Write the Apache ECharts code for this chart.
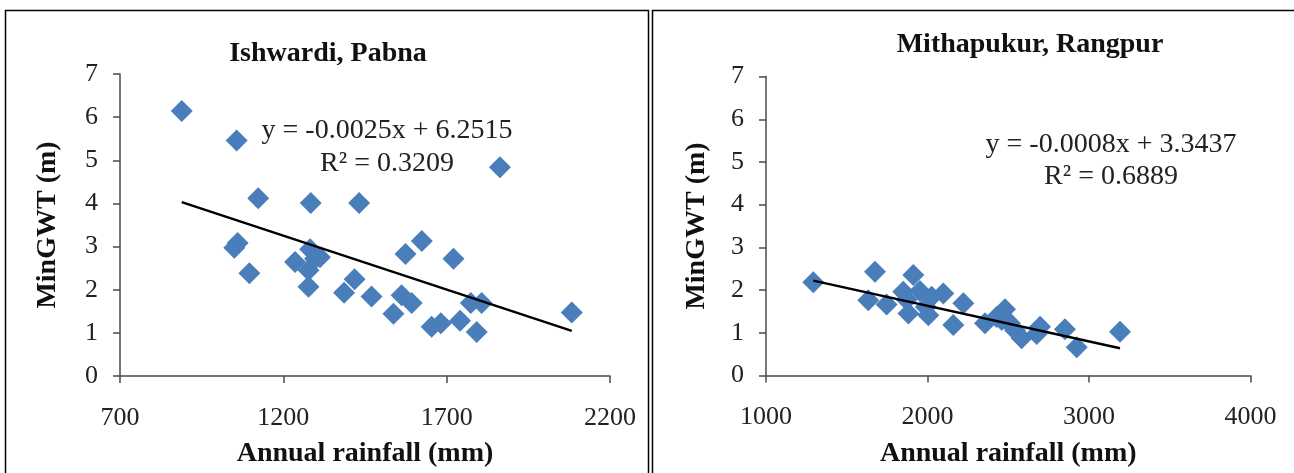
<!DOCTYPE html>
<html><head><meta charset="utf-8">
<script src="https://cdn.jsdelivr.net/npm/echarts@6/dist/echarts.min.js"></script>
<style>html,body{margin:0;padding:0;background:#fff}#c{width:1294px;height:473px}</style>
</head><body><div id="c"></div>
<script>
// ---- data ----
const leftTitle = 'Ishwardi, Pabna';
const rightTitle = 'Mithapukur, Rangpur';
const xAxisName = 'Annual rainfall (mm)';
const yAxisName = 'MinGWT (m)';

const leftRainfall = [889,1057,1123,1284,1432,1863,1050,1060,1096,1282,1297,1312,1236,1277,1277,1418,1386,1470,1574,1624,1721,1562,1593,1537,1654,1682,1741,1792,1774,1807,2083];
const leftGWT      = [6.14,5.46,4.12,4.01,4.01,4.84,2.97,3.08,2.38,2.94,2.72,2.75,2.64,2.45,2.07,2.24,1.93,1.84,2.83,3.13,2.72,1.87,1.69,1.44,1.14,1.22,1.28,1.02,1.69,1.69,1.47];
const leftTrendX = [889, 2083];
const leftTrendY = [4.03, 1.045];
const leftEquation = ['y = -0.0025x + 6.2515', 'R\u00B2 = 0.3209'];

const rightRainfall = [1293,1675,1633,1747,1912,1871,1850,1953,1882,2005,2026,2098,2222,2160,2356,2428,2480,2511,2542,2583,2676,2697,2851,2924,3192,1990,2460];
const rightGWT      = [2.18,2.43,1.76,1.66,2.35,1.77,1.96,1.98,1.45,1.41,1.84,1.92,1.69,1.18,1.22,1.37,1.55,1.22,1.06,0.87,0.97,1.14,1.08,0.66,1.02,1.60,1.30];
const rightTrendX = [1293, 3192];
const rightTrendY = [2.22, 0.635];
const rightEquation = ['y = -0.0008x + 3.3437', 'R\u00B2 = 0.6889'];

const leftXTicks = {min: 700, max: 2200, interval: 500};
const rightXTicks = {min: 1000, max: 4000, interval: 1000};
const yTicks = {min: 0, max: 7, interval: 1};

// ---- chart ----
const FONT = '"Liberation Serif", "Times New Roman", serif';
const BLUE = '#4A7EBB';
const zip = (a, b) => a.map((v, i) => [v, b[i]]);

function xAxis(grid, ticks) {
  return {
    gridIndex: grid, type: 'value', min: ticks.min, max: ticks.max, interval: ticks.interval,
    axisLine: {show: true, onZero: false, lineStyle: {color: '#4a4a4a', width: 1.5}},
    axisTick: {show: true, length: 7, lineStyle: {color: '#4a4a4a', width: 1.5}},
    axisLabel: {fontFamily: FONT, fontSize: 26, color: '#222', margin: 29, formatter: v => String(v)},
    splitLine: {show: false},
    name: xAxisName, nameLocation: 'middle', nameGap: 64,
    nameTextStyle: {fontFamily: FONT, fontSize: 28, fontWeight: 'bold', color: '#111'}
  };
}
function yAxis(grid, gap) {
  return {
    gridIndex: grid, type: 'value', min: yTicks.min, max: yTicks.max, interval: yTicks.interval,
    axisLine: {show: true, onZero: false, lineStyle: {color: '#4a4a4a', width: 1.5}},
    axisTick: {show: true, length: 7, lineStyle: {color: '#4a4a4a', width: 1.5}},
    axisLabel: {fontFamily: FONT, fontSize: 26, color: '#222', margin: 22, formatter: v => String(v)},
    splitLine: {show: false},
    name: yAxisName, nameLocation: 'middle', nameGap: gap, nameRotate: 90,
    nameTextStyle: {fontFamily: FONT, fontSize: 28, fontWeight: 'bold', color: '#111'}
  };
}
function eqText(lines, cx, y0, dy) {
  return lines.map((t, i) => ({
    type: 'text', z: 10,
    style: {text: t, x: cx, y: y0 + i * dy, textAlign: 'center', textVerticalAlign: 'middle',
            font: '28px ' + FONT, fill: '#222'}
  }));
}
function titleText(t, cx, cy) {
  return {type: 'text', z: 10,
    style: {text: t, x: cx, y: cy, textAlign: 'center', textVerticalAlign: 'middle',
            font: 'bold 28px ' + FONT, fill: '#111'}};
}

const chart = echarts.init(document.getElementById('c'), null, {renderer: 'canvas'});
chart.setOption({
  backgroundColor: '#fff',
  animation: false,
  grid: [
    {left: 120, top: 74, width: 490, height: 309.6},
    {left: 766, top: 76.6, width: 484.5, height: 298.8}
  ],
  xAxis: [xAxis(0, leftXTicks), xAxis(1, rightXTicks)],
  yAxis: [yAxis(0, 58), yAxis(1, 55)],
  series: [
    {type: 'scatter', xAxisIndex: 0, yAxisIndex: 0, symbol: 'diamond', symbolSize: 22,
     itemStyle: {color: BLUE, opacity: 1}, data: zip(leftRainfall, leftGWT)},
    {type: 'line', xAxisIndex: 0, yAxisIndex: 0, symbol: 'none', z: 5,
     lineStyle: {color: '#000', width: 2.5}, data: zip(leftTrendX, leftTrendY)},
    {type: 'scatter', xAxisIndex: 1, yAxisIndex: 1, symbol: 'diamond', symbolSize: 22,
     itemStyle: {color: BLUE, opacity: 1}, data: zip(rightRainfall, rightGWT)},
    {type: 'line', xAxisIndex: 1, yAxisIndex: 1, symbol: 'none', z: 5,
     lineStyle: {color: '#000', width: 2.5}, data: zip(rightTrendX, rightTrendY)}
  ],
  graphic: [
    {type: 'rect', shape: {x: 5.5, y: 10.5, width: 643, height: 480}, style: {fill: 'none', stroke: '#000', lineWidth: 1.5}, silent: true},
    {type: 'rect', shape: {x: 652.5, y: 10.5, width: 660, height: 480}, style: {fill: 'none', stroke: '#000', lineWidth: 1.5}, silent: true},
    titleText(leftTitle, 328, 54),
    titleText(rightTitle, 1030, 45)
  ].concat(eqText(leftEquation, 387, 131, 33), eqText(rightEquation, 1111, 145, 32))
});
</script>
</body></html>
